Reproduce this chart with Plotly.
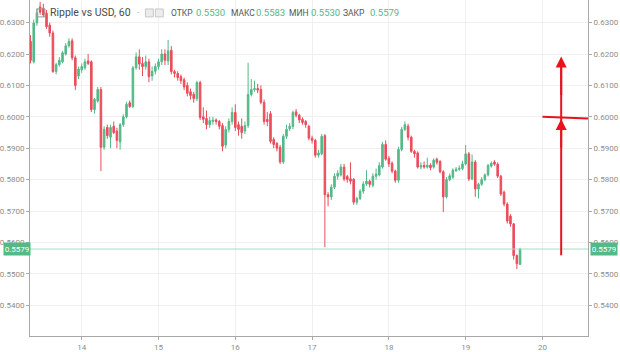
import pandas as pd
import plotly.graph_objects as go

# ---- data (hourly candles, Ripple vs USD) ----
opens = [0.6240,0.6175,0.6299,0.6350,0.6346,0.6330,0.6292,0.6267,0.6144,0.6166,0.6175,0.6200,0.6226,0.6242,0.6188,0.6130,
         0.6150,0.6156,0.6178,0.6175,0.6023,0.6050,0.6087,0.5903,0.5966,0.5935,0.5970,0.5955,0.5920,0.5975,0.6000,0.6045,
         0.6033,0.6156,0.6191,0.6170,0.6160,0.6175,0.6130,0.6145,0.6160,0.6175,0.6200,0.6178,0.6212,0.6144,0.6138,0.6128,
         0.6118,0.6100,0.6080,0.6072,0.6058,0.6109,0.6000,0.5995,0.5975,0.5985,0.5990,0.5985,0.5972,0.5910,0.5960,0.5985,
         0.6014,0.5975,0.5970,0.5955,0.5972,0.6071,0.6087,0.6090,0.6087,0.6046,0.5992,0.6010,0.5928,0.5915,0.5903,0.5856,
         0.5938,0.5962,0.5969,0.6016,0.6005,0.5992,0.5985,0.5970,0.5932,0.5925,0.5878,0.5882,0.5940,0.5752,0.5745,0.5776,
         0.5811,0.5815,0.5840,0.5810,0.5803,0.5801,0.5728,0.5740,0.5763,0.5786,0.5795,0.5782,0.5811,0.5815,0.5840,0.5912,
         0.5868,0.5852,0.5827,0.5798,0.5896,0.5960,0.5970,0.5935,0.5890,0.5885,0.5840,0.5845,0.5840,0.5846,0.5840,0.5865,
         0.5858,0.5825,0.5745,0.5800,0.5808,0.5828,0.5833,0.5835,0.5850,0.5882,0.5802,0.5856,0.5770,0.5785,0.5800,0.5815,
         0.5843,0.5856,0.5849,0.5811,0.5760,0.5722,0.5684,0.5659,0.5558,0.5530]
highs = [0.6260,0.6310,0.6345,0.6366,0.6360,0.6340,0.6300,0.6275,0.6172,0.6190,0.6210,0.6235,0.6250,0.6250,0.6195,0.6160,
         0.6170,0.6185,0.6200,0.6180,0.6060,0.6095,0.6095,0.5970,0.5975,0.5975,0.5985,0.5965,0.5980,0.6008,0.6048,0.6052,
         0.6162,0.6205,0.6215,0.6190,0.6195,0.6185,0.6160,0.6170,0.6185,0.6215,0.6215,0.6245,0.6225,0.6150,0.6145,0.6135,
         0.6125,0.6110,0.6090,0.6080,0.6115,0.6115,0.6030,0.6020,0.6000,0.6000,0.5995,0.5990,0.5980,0.5970,0.5995,0.6030,
         0.6040,0.5985,0.5995,0.5985,0.6172,0.6120,0.6115,0.6105,0.6100,0.6055,0.6015,0.6018,0.5935,0.5920,0.5910,0.5945,
         0.5975,0.5980,0.6020,0.6025,0.6010,0.5998,0.5990,0.5975,0.5940,0.5930,0.5895,0.5945,0.5945,0.5760,0.5785,0.5820,
         0.5830,0.5850,0.5850,0.5815,0.5855,0.5805,0.5745,0.5770,0.5795,0.5830,0.5800,0.5820,0.5835,0.5855,0.5920,0.5925,
         0.5875,0.5858,0.5832,0.5905,0.5968,0.5985,0.5978,0.5940,0.5895,0.5890,0.5855,0.5858,0.5870,0.5852,0.5868,0.5870,
         0.5862,0.5830,0.5808,0.5820,0.5836,0.5840,0.5845,0.5860,0.5910,0.5888,0.5880,0.5862,0.5790,0.5808,0.5820,0.5850,
         0.5858,0.5862,0.5855,0.5815,0.5765,0.5728,0.5690,0.5662,0.5562,0.5583]
lows = [0.6170,0.6170,0.6290,0.6325,0.6318,0.6280,0.6255,0.6140,0.6135,0.6160,0.6170,0.6195,0.6220,0.6180,0.6085,0.6120,
        0.6140,0.6150,0.6165,0.6015,0.6010,0.6045,0.5827,0.5895,0.5930,0.5900,0.5945,0.5900,0.5895,0.5968,0.5995,0.6028,
        0.6028,0.6150,0.6150,0.6130,0.6150,0.6110,0.6115,0.6135,0.6150,0.6165,0.6165,0.6165,0.6135,0.6125,0.6115,0.6105,
        0.6085,0.6065,0.6055,0.6045,0.6050,0.5990,0.5980,0.5960,0.5965,0.5975,0.5975,0.5960,0.5890,0.5900,0.5950,0.5975,
        0.5955,0.5940,0.5930,0.5945,0.5965,0.6065,0.6080,0.6075,0.6040,0.5975,0.5970,0.5915,0.5900,0.5890,0.5850,0.5850,
        0.5930,0.5955,0.5960,0.5998,0.5980,0.5975,0.5965,0.5925,0.5915,0.5870,0.5870,0.5878,0.5585,0.5715,0.5735,0.5770,
        0.5800,0.5810,0.5795,0.5790,0.5785,0.5720,0.5720,0.5735,0.5755,0.5780,0.5775,0.5775,0.5800,0.5810,0.5835,0.5860,
        0.5840,0.5820,0.5790,0.5790,0.5890,0.5955,0.5925,0.5885,0.5870,0.5835,0.5832,0.5835,0.5835,0.5830,0.5835,0.5848,
        0.5820,0.5697,0.5740,0.5795,0.5802,0.5825,0.5828,0.5830,0.5845,0.5795,0.5798,0.5745,0.5740,0.5780,0.5795,0.5810,
        0.5838,0.5844,0.5805,0.5748,0.5715,0.5660,0.5650,0.5545,0.5515,0.5530]
closes = [0.6180,0.6299,0.6331,0.6333,0.6325,0.6287,0.6267,0.6144,0.6166,0.6180,0.6204,0.6226,0.6240,0.6188,0.6100,0.6152,
          0.6160,0.6175,0.6170,0.6023,0.6055,0.6087,0.5903,0.5960,0.5940,0.5966,0.5950,0.5925,0.5975,0.6000,0.6040,0.6033,
          0.6156,0.6191,0.6168,0.6160,0.6175,0.6128,0.6145,0.6160,0.6175,0.6200,0.6180,0.6210,0.6144,0.6138,0.6125,0.6115,
          0.6095,0.6075,0.6068,0.6058,0.6109,0.5998,0.5992,0.5975,0.5988,0.5990,0.5985,0.5970,0.5906,0.5960,0.5985,0.6014,
          0.5966,0.5960,0.5950,0.5972,0.6071,0.6087,0.6090,0.6085,0.6046,0.5985,0.5985,0.5922,0.5912,0.5900,0.5856,0.5938,
          0.5960,0.5970,0.6014,0.6005,0.5990,0.5982,0.5975,0.5932,0.5925,0.5878,0.5885,0.5938,0.5752,0.5745,0.5776,0.5811,
          0.5820,0.5840,0.5802,0.5800,0.5795,0.5728,0.5740,0.5763,0.5786,0.5795,0.5785,0.5811,0.5818,0.5845,0.5912,0.5865,
          0.5850,0.5827,0.5798,0.5896,0.5960,0.5975,0.5935,0.5890,0.5882,0.5840,0.5845,0.5840,0.5846,0.5838,0.5862,0.5855,
          0.5825,0.5745,0.5800,0.5812,0.5830,0.5833,0.5836,0.5850,0.5882,0.5802,0.5856,0.5770,0.5785,0.5800,0.5815,0.5845,
          0.5852,0.5849,0.5811,0.5754,0.5722,0.5668,0.5659,0.5558,0.5532,0.5579]
first_candle = "2018-06-13 08:00"
last_price = 0.5579
header_title = "Ripple vs USD, 60"
header_fields = [("ОТКР", "0.5530"), ("МАКС", "0.5583"), ("МИН", "0.5530"), ("ЗАКР", "0.5579")]
x_range = ["2018-06-13 07:50", "2018-06-20 14:14"]
y_range = [0.5302, 0.6372]
# annotation arrows (hand-drawn marks on the picture)
arrow_x = "2018-06-20 05:51"
arrow_top, arrow_mid, arrow_bottom = 0.6192, 0.5993, 0.5559
level_line = (("2018-06-20 00:00", 0.6000), ("2018-06-20 14:14", 0.5995))

times = pd.date_range(first_candle, periods=len(closes), freq="h")

UP, DOWN = "#53b987", "#eb4d5c"
W, H = 620, 352
L, R, T, B = 27, 32, 0, 14
PW, PH = W - L - R, H - T - B

def px(x):
    return (x - L) / PW

def py(y):
    return (H - B - y) / PH

fig = go.Figure()
fig.add_trace(go.Candlestick(
    x=times, open=opens, high=highs, low=lows, close=closes,
    increasing=dict(line=dict(color=UP, width=1), fillcolor=UP),
    decreasing=dict(line=dict(color=DOWN, width=1), fillcolor=DOWN),
    whiskerwidth=0, showlegend=False, hoverinfo="skip", yaxis="y"))
fig.add_trace(go.Scatter(x=[times[0]], y=[closes[0]], yaxis="y2", mode="markers",
                         marker=dict(opacity=0), showlegend=False, hoverinfo="skip"))

axis_font = dict(family="Roboto, Arial, sans-serif", size=8, color="#8c8c8c")
yax = dict(range=y_range, dtick=0.01, tick0=0.54, tickformat=".4f", showgrid=True,
           gridcolor="#f0f0f0", gridwidth=1, ticks="outside", ticklen=3, tickcolor="#aaaaaa",
           showline=True, linecolor="#a8a8a8", linewidth=1, tickfont=axis_font, zeroline=False,
           fixedrange=True)

fig.update_layout(
    width=W, height=H, margin=dict(l=L, r=R, t=T, b=B),
    paper_bgcolor="white", plot_bgcolor="white",
    xaxis=dict(type="date", range=x_range, tickformat="%d", dtick=86400000,
               tick0="2018-06-14", showgrid=True, gridcolor="#f0f0f0", ticks="outside",
               ticklen=3, tickcolor="#aaaaaa", showline=True, linecolor="#a8a8a8",
               tickfont=axis_font, rangeslider=dict(visible=False), zeroline=False),
    yaxis=dict(side="right", **yax),
    yaxis2=dict(side="left", overlaying="y", matches="y", **{k: v for k, v in yax.items() if k != "range"}),
)

shapes = []
# last price line
shapes.append(dict(type="line", xref="paper", x0=0, x1=1, yref="y", y0=last_price, y1=last_price,
                   line=dict(color="#a6dcc3", width=1), layer="above"))
# hand drawn red marks
shapes.append(dict(type="line", xref="x", yref="y", x0=arrow_x, x1=arrow_x, y0=arrow_bottom, y1=arrow_top - 0.0012,
                   line=dict(color="#e8141c", width=2)))
shapes.append(dict(type="line", xref="x", yref="y", x0=level_line[0][0], y0=level_line[0][1],
                   x1=level_line[1][0], y1=level_line[1][1], line=dict(color="#e8141c", width=2)))
# header icons
shapes.append(dict(type="rect", xref="paper", yref="paper", x0=px(34), x1=px(42), y0=py(17), y1=py(9),
                   line=dict(color="#9a9a9a", width=1), fillcolor="rgba(0,0,0,0)"))
for bx in (143, 153):
    shapes.append(dict(type="rect", xref="paper", yref="paper", x0=px(bx), x1=px(bx + 8), y0=py(17), y1=py(9),
                       line=dict(color="#c8c8c8", width=1), fillcolor="#ececec"))
fig.update_layout(shapes=shapes)

ann = []
for ytip, tail in ((arrow_top, 40), (arrow_mid, 30)):
    ann.append(dict(x=arrow_x, y=ytip, xref="x", yref="y", ax=0, ay=tail, axref="pixel", ayref="pixel",
                    showarrow=True, arrowhead=2, arrowsize=1.1, arrowwidth=2, arrowcolor="#e8141c", text=""))
# price label boxes
for xp, anchor in ((px(0), "left"), (px(590), "left")):
    ann.append(dict(x=xp, y=last_price, xref="paper", yref="y", xanchor=anchor, yanchor="middle",
                    text="0.5579", showarrow=False, bgcolor="#53b987", borderpad=1, width=24, height=10,
                    font=dict(family="Roboto, Arial, sans-serif", size=8, color="white")))
# header
hfont = "Roboto, Arial, sans-serif"
ann.append(dict(x=px(45), y=py(13), xref="paper", yref="paper", xanchor="left", yanchor="middle",
                text=header_title, showarrow=False, font=dict(family=hfont, size=10.5, color="#4a4a4a")))
ann.append(dict(x=px(133), y=py(13), xref="paper", yref="paper", xanchor="left", yanchor="middle",
                text="-", showarrow=False, font=dict(family=hfont, size=8, color="#b0b0b0")))
field_pos = [(167, 192), (227, 252), (285, 307), (340, 367)]
for (lab, val), (xl, xv) in zip(header_fields, field_pos):
    ann.append(dict(x=px(xl), y=py(13), xref="paper", yref="paper", xanchor="left", yanchor="middle",
                    text=lab, showarrow=False, font=dict(family=hfont, size=8.5, color="#555555")))
    ann.append(dict(x=px(xv), y=py(13), xref="paper", yref="paper", xanchor="left", yanchor="middle",
                    text=val, showarrow=False, font=dict(family=hfont, size=9.5, color="#53b987")))
fig.update_layout(annotations=ann)

fig.write_html("out.html")
